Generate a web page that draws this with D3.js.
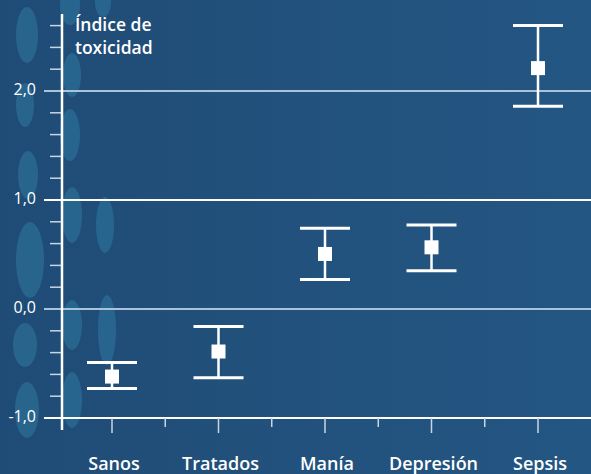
<!DOCTYPE html>
<html>
<head>
<meta charset="utf-8">
<script src="https://cdn.jsdelivr.net/npm/d3@7"></script>
<style>
  body { margin: 0; background: #20507a; }
  svg { display: block; }
  text { font-family: "Open Sans", "Noto Sans", sans-serif; fill: #fff; font-weight: 600; }
</style>
</head>
<body>
<div id="chart"></div>
<script>
// data
const categories = ["Sanos", "Tratados", "Manía", "Depresión", "Sepsis"];
const means = [-0.62, -0.39, 0.505, 0.566, 2.21];
const upper = [-0.49, -0.16, 0.74, 0.77, 2.60];
const lower = [-0.73, -0.63, 0.27, 0.35, 1.86];
const majorTicks = [-1, 0, 1, 2];
const tickLabels = ["-1,0", "0,0", "1,0", "2,0"];

const width = 591, height = 474;

const svg = d3.select("#chart").append("svg")
  .attr("width", width)
  .attr("height", height);

// background
const defs = svg.append("defs");
const grad = defs.append("linearGradient").attr("id", "bg").attr("x1", 0).attr("x2", 1);
grad.append("stop").attr("offset", "0%").attr("stop-color", "#1f4c76");
grad.append("stop").attr("offset", "100%").attr("stop-color", "#245683");
svg.append("rect").attr("width", width).attr("height", height).attr("fill", "url(#bg)");

// decorative blobs on the left
const blobs = [
  [27, 35, 11, 28], [25, 105, 9, 22], [28, 175, 10, 24], [30, 260, 14, 38], [25, 345, 12, 22], [27, 410, 12, 28],
  [70, 5, 10, 20], [72, 75, 9, 22], [70, 135, 10, 26], [72, 215, 10, 28], [72, 325, 10, 25], [72, 400, 10, 28],
  [103, 3, 8, 14], [105, 225, 9, 28], [107, 330, 9, 35]
];
svg.append("g").selectAll("ellipse")
  .data(blobs)
  .join("ellipse")
  .attr("cx", d => d[0]).attr("cy", d => d[1])
  .attr("rx", d => d[2]).attr("ry", d => d[3])
  .attr("fill", "#3a92b8")
  .attr("opacity", 0.35);

const y = d3.scaleLinear().domain([-1, 2]).range([418, 91]);
const x = d3.scalePoint().domain(categories).range([112, 538]);
const axisX = 62;

// gridlines
svg.append("g").selectAll("line")
  .data(majorTicks)
  .join("line")
  .attr("x1", 44).attr("x2", width)
  .attr("y1", d => y(d)).attr("y2", d => y(d))
  .attr("stroke", d => (d === 0 || d === 2) ? "#a9c4da" : "#fff")
  .attr("stroke-width", 2);

// y axis minor ticks
const minorTicks = d3.range(-1, 2.61, 0.2).filter(v => Math.abs(v - Math.round(v)) > 0.01);
svg.append("g").selectAll("line")
  .data(minorTicks)
  .join("line")
  .attr("x1", 50).attr("x2", axisX)
  .attr("y1", d => y(d)).attr("y2", d => y(d))
  .attr("stroke", "#c8d6e3")
  .attr("stroke-width", 1.5);

// y axis line
svg.append("line")
  .attr("x1", axisX).attr("x2", axisX)
  .attr("y1", 14).attr("y2", 430)
  .attr("stroke", "#fff").attr("stroke-width", 2.5);

// y labels
svg.append("g").selectAll("text")
  .data(majorTicks)
  .join("text")
  .attr("x", 36).attr("y", d => y(d))
  .attr("dy", "0.28em")
  .attr("text-anchor", "end")
  .style("font-size", "16px")
  .style("font-weight", 500)
  .text((d, i) => tickLabels[i]);

// x ticks: major at categories, minor halfway between
const step = x.step();
const xMinor = categories.slice(0, -1).map(c => x(c) + step / 2);
svg.append("g").selectAll("line")
  .data(categories)
  .join("line")
  .attr("x1", d => x(d)).attr("x2", d => x(d))
  .attr("y1", 418).attr("y2", 433)
  .attr("stroke", "#c8d6e3").attr("stroke-width", 1.5);
svg.append("g").selectAll("line")
  .data(xMinor)
  .join("line")
  .attr("x1", d => d).attr("x2", d => d)
  .attr("y1", 418).attr("y2", 427)
  .attr("stroke", "#c8d6e3").attr("stroke-width", 1.5);

// x labels
svg.append("g").selectAll("text")
  .data(categories)
  .join("text")
  .attr("x", d => x(d) + 2).attr("y", 470)
  .attr("text-anchor", "middle")
  .style("font-size", "18px")
  .text(d => d);

// title
const title = svg.append("text").attr("x", 75).attr("y", 31).style("font-size", "17.5px");
title.append("tspan").attr("x", 75).text("Índice de");
title.append("tspan").attr("x", 75).attr("dy", 23).text("toxicidad");

// error bars
const capW = 25;
const pts = categories.map((c, i) => ({ c, m: means[i], hi: upper[i], lo: lower[i] }));
const g = svg.append("g");
g.selectAll(".stem")
  .data(pts)
  .join("line")
  .attr("x1", d => x(d.c)).attr("x2", d => x(d.c))
  .attr("y1", d => y(d.hi)).attr("y2", d => y(d.lo))
  .attr("stroke", "#fff").attr("stroke-width", 2.5);
g.selectAll(".capHi")
  .data(pts)
  .join("line")
  .attr("x1", d => x(d.c) - capW).attr("x2", d => x(d.c) + capW)
  .attr("y1", d => y(d.hi)).attr("y2", d => y(d.hi))
  .attr("stroke", "#fff").attr("stroke-width", 3);
g.selectAll(".capLo")
  .data(pts)
  .join("line")
  .attr("x1", d => x(d.c) - capW).attr("x2", d => x(d.c) + capW)
  .attr("y1", d => y(d.lo)).attr("y2", d => y(d.lo))
  .attr("stroke", "#fff").attr("stroke-width", 3);
g.selectAll("rect")
  .data(pts)
  .join("rect")
  .attr("x", d => x(d.c) - 7).attr("y", d => y(d.m) - 7)
  .attr("width", 14).attr("height", 14)
  .attr("fill", "#fff");
</script>
</body>
</html>
